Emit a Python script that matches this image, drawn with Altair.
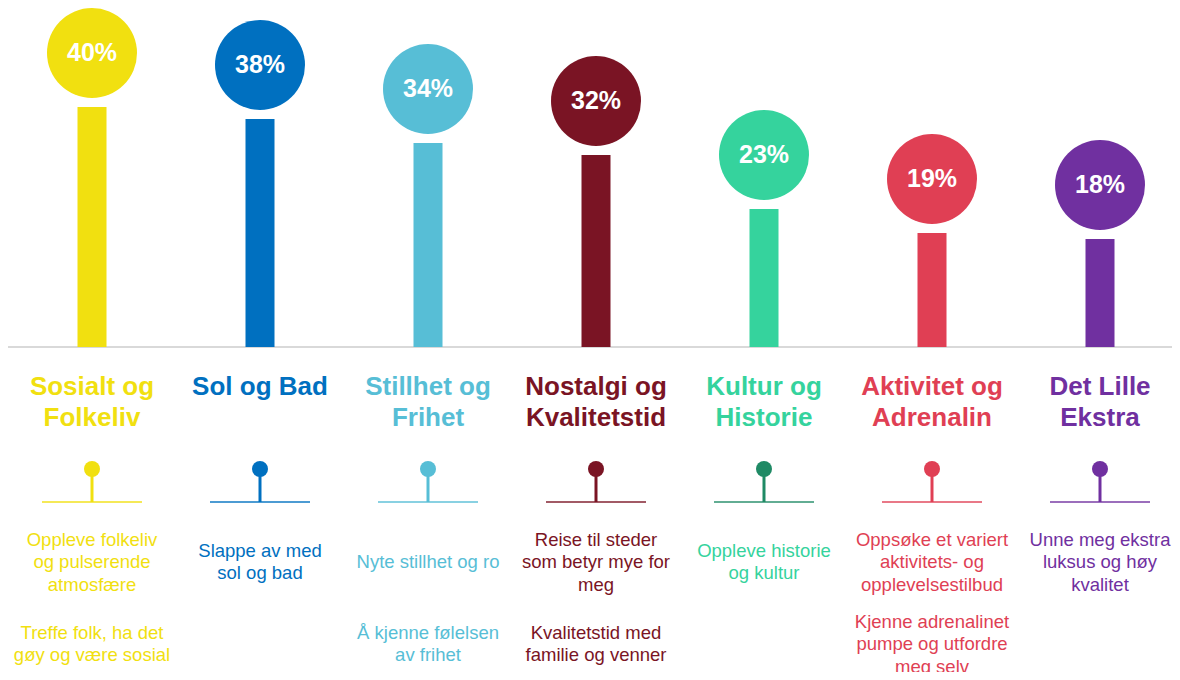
import altair as alt
import pandas as pd

categories = ["Sosialt og Folkeliv", "Sol og Bad", "Stillhet og Frihet", "Nostalgi og Kvalitetstid",
              "Kultur og Historie", "Aktivitet og Adrenalin", "Det Lille Ekstra"]
values = [40, 38, 34, 32, 23, 19, 18]
titles = ["Sosialt og\nFolkeliv", "Sol og Bad", "Stillhet og\nFrihet", "Nostalgi og\nKvalitetstid",
          "Kultur og\nHistorie", "Aktivitet og\nAdrenalin", "Det Lille\nEkstra"]
desc1 = ["Oppleve folkeliv\nog pulserende\natmosfære", "Slappe av med\nsol og bad", "Nyte stillhet og ro",
         "Reise til steder\nsom betyr mye for\nmeg", "Oppleve historie\nog kultur",
         "Oppsøke et variert\naktivitets- og\nopplevelsestilbud", "Unne meg ekstra\nluksus og høy\nkvalitet"]
desc2 = ["Treffe folk, ha det\ngøy og være sosial", "", "Å kjenne følelsen\nav frihet",
         "Kvalitetstid med\nfamilie og venner", "", "Kjenne adrenalinet\npumpe og utfordre\nmeg selv", ""]
colors = ["#F1E010", "#0070C0", "#57BED6", "#7A1424", "#35D39D", "#E03F54", "#7030A0"]
icon_colors = ["#F1E010", "#0070C0", "#57BED6", "#7A1424", "#1F8A65", "#E03F54", "#7030A0"]

df = pd.DataFrame({"cat": categories, "value": values, "title": titles,
                   "desc1": desc1, "desc2": desc2, "icon": icon_colors})

FONT = "Liberation Sans"
LH = 22.5
x = alt.X("cat:N", sort=categories, axis=None,
          scale=alt.Scale(range=[0, 1176], paddingInner=0, paddingOuter=0))
yscale = alt.Scale(domain=[-54.1667, 56.5], nice=False, zero=False)
y = alt.Y("value:Q", axis=None, scale=yscale)
color = alt.Color("cat:N", scale=alt.Scale(domain=categories, range=colors), legend=None)

base = alt.Chart(df)

baseline = alt.Chart(pd.DataFrame({"v": [0]})).mark_rule(color="#D9D9D9", strokeWidth=2).encode(
    y=alt.Y("v:Q", scale=yscale, axis=None),
    x=alt.value(-1), x2=alt.value(1164))

bars = base.mark_bar(size=29).encode(x=x, y=y, y2=alt.datum(0), color=color)
circles = base.mark_point(filled=True, shape="circle", size=8100, opacity=1, yOffset=-54).encode(
    x=x, y=y, color=color)
pct = base.transform_calculate(label="datum.value + '%'").mark_text(
    font=FONT, fontSize=25, fontWeight="bold", color="white", baseline="middle", yOffset=-54
).encode(x=x, y=y, text="label:N")

title_txt = base.mark_text(font=FONT, fontSize=26, fontWeight="bold", baseline="top",
                           lineBreak="\n", lineHeight=31).encode(
    x=x, y=alt.value(366), text="title:N", color=color)

icon_dot = base.mark_point(filled=True, shape="circle", size=256, opacity=1).encode(
    x=x, y=alt.value(461), color=alt.Color("icon:N", scale=None))
icon_stem = base.mark_rule(strokeWidth=3).encode(
    x=x, y=alt.value(461), y2=alt.value(494), color=alt.Color("icon:N", scale=None))
icon_line = base.mark_tick(orient="horizontal", size=100, thickness=2).encode(
    x=x, y=alt.value(494), color=alt.Color("icon:N", scale=None))


def desc_layer(field, center):
    return base.transform_calculate(
        n=f"length(split(datum.{field}, '\\n'))",
        ypos=f"{center} - (datum.n - 1) * {LH} / 2"
    ).mark_text(font=FONT, fontSize=18.5, baseline="middle", lineBreak="\n", lineHeight=LH).encode(
        x=x, y=alt.Y("ypos:Q", scale=None), text=f"{field}:N", color=color)


d1 = desc_layer("desc1", 554)
d2 = desc_layer("desc2", 636)

chart = alt.layer(baseline, bars, circles, pct, title_txt, icon_stem, icon_line, icon_dot, d1, d2).properties(
    width=1164, height=664, autosize=alt.AutoSizeParams(type="none"), padding=0
).configure_view(stroke=None)

chart.save("out.html", embed_options={"renderer": "svg", "actions": False})
